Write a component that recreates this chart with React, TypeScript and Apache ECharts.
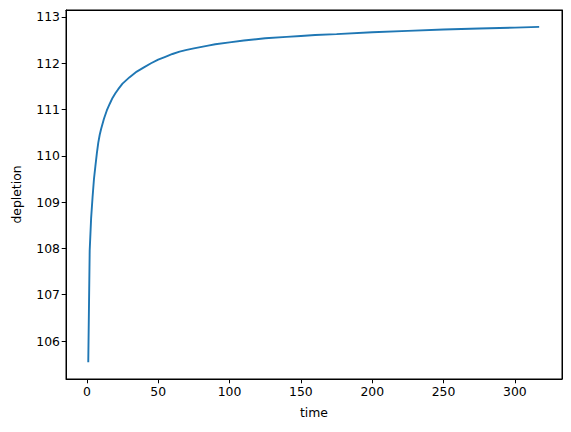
import React, { useEffect, useRef } from 'react';
import * as echarts from 'echarts';

// values
const times = [
  1, 2, 3, 4, 5, 6, 7, 8, 9, 10, 12, 14, 16, 18, 20, 22, 25, 30, 35, 40, 45, 50, 55, 60, 65, 70, 75, 85, 90,
  100, 110, 125, 140, 150, 160, 175, 200, 225, 250, 275, 300, 317,
];
const depletion = [
  105.54, 107.95, 108.65, 109.1, 109.5, 109.78, 110.05, 110.28, 110.45, 110.58, 110.8, 110.98, 111.12, 111.25,
  111.35, 111.44, 111.56, 111.7, 111.82, 111.91, 112.0, 112.08, 112.14, 112.2, 112.25, 112.29, 112.32, 112.38,
  112.41, 112.45, 112.49, 112.54, 112.57, 112.59, 112.61, 112.63, 112.67, 112.7, 112.73, 112.75, 112.77, 112.785,
];
const xTicks = [0, 50, 100, 150, 200, 250, 300];
const yTicks = [106, 107, 108, 109, 110, 111, 112, 113];

const FONT = 'DejaVu Sans';
const X_MIN = -14.6;
const X_MAX = 333;
const Y_MIN = 105.18;
const Y_MAX = 113.15;

const App: React.FC = () => {
  const chartRef = useRef<HTMLDivElement>(null);

  useEffect(() => {
    if (!chartRef.current) return;
    const chart = echarts.init(chartRef.current, undefined, { renderer: 'svg' });

    const spine = () => ({ show: true, onZero: false, lineStyle: { color: '#000', width: 1 } });
    const tick = { show: true, length: 4.3, lineStyle: { color: '#000', width: 1 } };
    const labelStyle = { color: '#000', fontFamily: FONT, fontSize: 12.4, margin: 6 };
    const nameStyle = { color: '#000', fontFamily: FONT, fontSize: 12.4 };

    const option: echarts.EChartsOption = {
      animation: false,
      grid: {
        left: 66,
        top: 10,
        right: 9,
        bottom: 53,
        show: true,
        borderColor: '#000',
        borderWidth: 1,
      },
      xAxis: [
        {
          type: 'value',
          position: 'bottom',
          min: X_MIN,
          max: X_MAX,
          name: 'time',
          nameLocation: 'middle',
          nameGap: 27,
          nameTextStyle: { ...nameStyle, verticalAlign: 'top' },
          axisLine: spine(),
          axisTick: { ...tick, customValues: xTicks },
          axisLabel: { ...labelStyle, customValues: xTicks },
          splitLine: { show: false },
        },
        {
          // top spine
          type: 'value',
          position: 'top',
          min: X_MIN,
          max: X_MAX,
          axisLine: spine(),
          axisTick: { show: false },
          axisLabel: { show: false },
          splitLine: { show: false },
        },
      ],
      yAxis: [
        {
          type: 'value',
          position: 'left',
          min: Y_MIN,
          max: Y_MAX,
          name: 'depletion',
          nameLocation: 'middle',
          nameGap: 44,
          nameTextStyle: nameStyle,
          axisLine: spine(),
          axisTick: { ...tick, customValues: yTicks },
          axisLabel: { ...labelStyle, customValues: yTicks },
          splitLine: { show: false },
        },
        {
          // right spine
          type: 'value',
          position: 'right',
          min: Y_MIN,
          max: Y_MAX,
          axisLine: spine(),
          axisTick: { show: false },
          axisLabel: { show: false },
          splitLine: { show: false },
        },
      ],
      series: [
        {
          type: 'line',
          xAxisIndex: 0,
          yAxisIndex: 0,
          data: times.map((t, i) => [t, depletion[i]]),
          showSymbol: false,
          smooth: false,
          lineStyle: { color: '#1f77b4', width: 1.9 },
          itemStyle: { color: '#1f77b4' },
        },
      ],
    };

    chart.setOption(option);
    return () => {
      chart.dispose();
    };
  }, []);

  return (
    <div style={{ position: 'fixed', left: 0, top: 0, width: '571px', height: '432px', background: '#fff' }}>
      <div ref={chartRef} style={{ width: '571px', height: '432px' }}></div>
    </div>
  );
};

export default App;
